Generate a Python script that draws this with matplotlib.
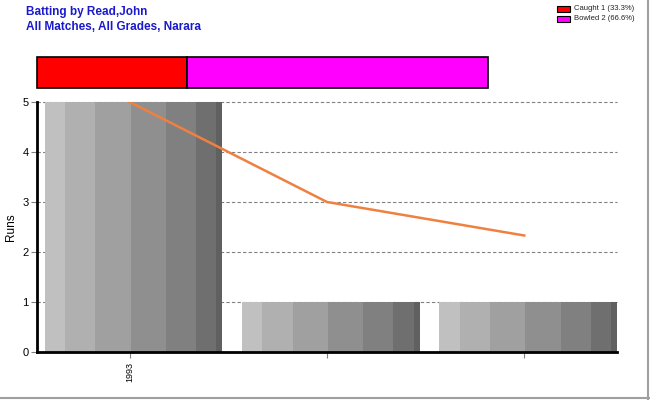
import numpy as np
import matplotlib.pyplot as plt
from matplotlib.patches import Rectangle

plt.rcParams['font.family'] = ['Liberation Sans', 'DejaVu Sans']

# data
seasons = ['1993', '', '']
runs = [5, 1, 1]
average = [5, 3, 2.33]
dismissals = ['Caught', 'Bowled']
dismissal_counts = [1, 2]
dismissal_colors = ['#ff0000', '#ff00ff']

# gray strips used for the shaded bars (fractions of bar width)
strip_edges = [0, 0.114, 0.284, 0.483, 0.682, 0.852, 0.966, 1.0]
strip_colors = ['#c0c0c0', '#b0b0b0', '#a0a0a0', '#8f8f8f',
                '#808080', '#6f6f6f', '#606060']

fig = plt.figure(figsize=(6.5, 4), dpi=100)

# titles
fig.text(26/650, 1-12/400, 'Batting by Read,John', color='#1a1acc',
         fontsize=8.5, fontweight='bold', va='center')
fig.text(26/650, 1-27/400, 'All Matches, All Grades, Narara', color='#1a1acc',
         fontsize=8.5, fontweight='bold', va='center')

# figure border (right / bottom)
fig.add_artist(plt.Line2D([648/650, 648/650], [0, 1], color='#a0a0a0', lw=1.5))
fig.add_artist(plt.Line2D([0, 1], [2/400, 2/400], color='#a0a0a0', lw=1.5))

# dismissal strip
ax2 = fig.add_axes([37/650, 1-88/400, 451/650, 31/400])
total = sum(dismissal_counts)
left = 0
for n, c in zip(dismissal_counts, dismissal_colors):
    ax2.barh(0, n/total, left=left, height=1, color=c, edgecolor='black',
             lw=1.2, clip_on=False)
    left += n/total
ax2.set_xlim(0, 1)
ax2.set_ylim(-0.5, 0.5)
ax2.axis('off')

# legend
for i, (d, n, c) in enumerate(zip(dismissals, dismissal_counts, dismissal_colors)):
    y = 1-(9+i*10)/400
    fig.add_artist(Rectangle((557/650, y-3/400), 13/650, 6/400, facecolor=c,
                             edgecolor='black', lw=0.8, transform=fig.transFigure))
    fig.text(574/650, y, '%s %d (%.1f%%)' % (d, n, int(n/total*1000)/10),
             fontsize=5.5, va='center', color='#222222')

# main chart
ax = fig.add_axes([37/650, 1-352/400, 580/650, 250/400])
x = np.arange(len(runs))
width = 0.9
for xi, r in zip(x, runs):
    x0 = xi + 0.02 - width/2
    for k in range(len(strip_colors)):
        ax.bar(x0 + strip_edges[k]*width, r,
               width=(strip_edges[k+1]-strip_edges[k])*width,
               align='edge', color=strip_colors[k], lw=0, zorder=2)
ax.plot(x, average, color='#f08040', lw=1.8, zorder=3)

ax.set_xlim(-0.47, 2.47)
ax.set_ylim(0, 5)
ax.set_yticks(range(6))
ax.set_xticks(x)
ax.set_xticklabels(seasons, rotation=90, fontsize=6.5)
ax.tick_params(axis='y', labelsize=8, color='#808080', length=4, pad=2)
ax.tick_params(axis='x', color='#808080', length=4)
ax.yaxis.grid(True, ls=(0, (3, 2)), color='#808080', lw=0.8, zorder=1)
for gl in ax.yaxis.get_gridlines():
    gl.set_clip_on(False)
ax.set_ylabel('Runs', fontsize=8.5, labelpad=4)
ax.spines['top'].set_visible(False)
ax.spines['right'].set_visible(False)
ax.spines['left'].set_linewidth(2)
ax.spines['bottom'].set_linewidth(2)

plt.savefig('out.png')
